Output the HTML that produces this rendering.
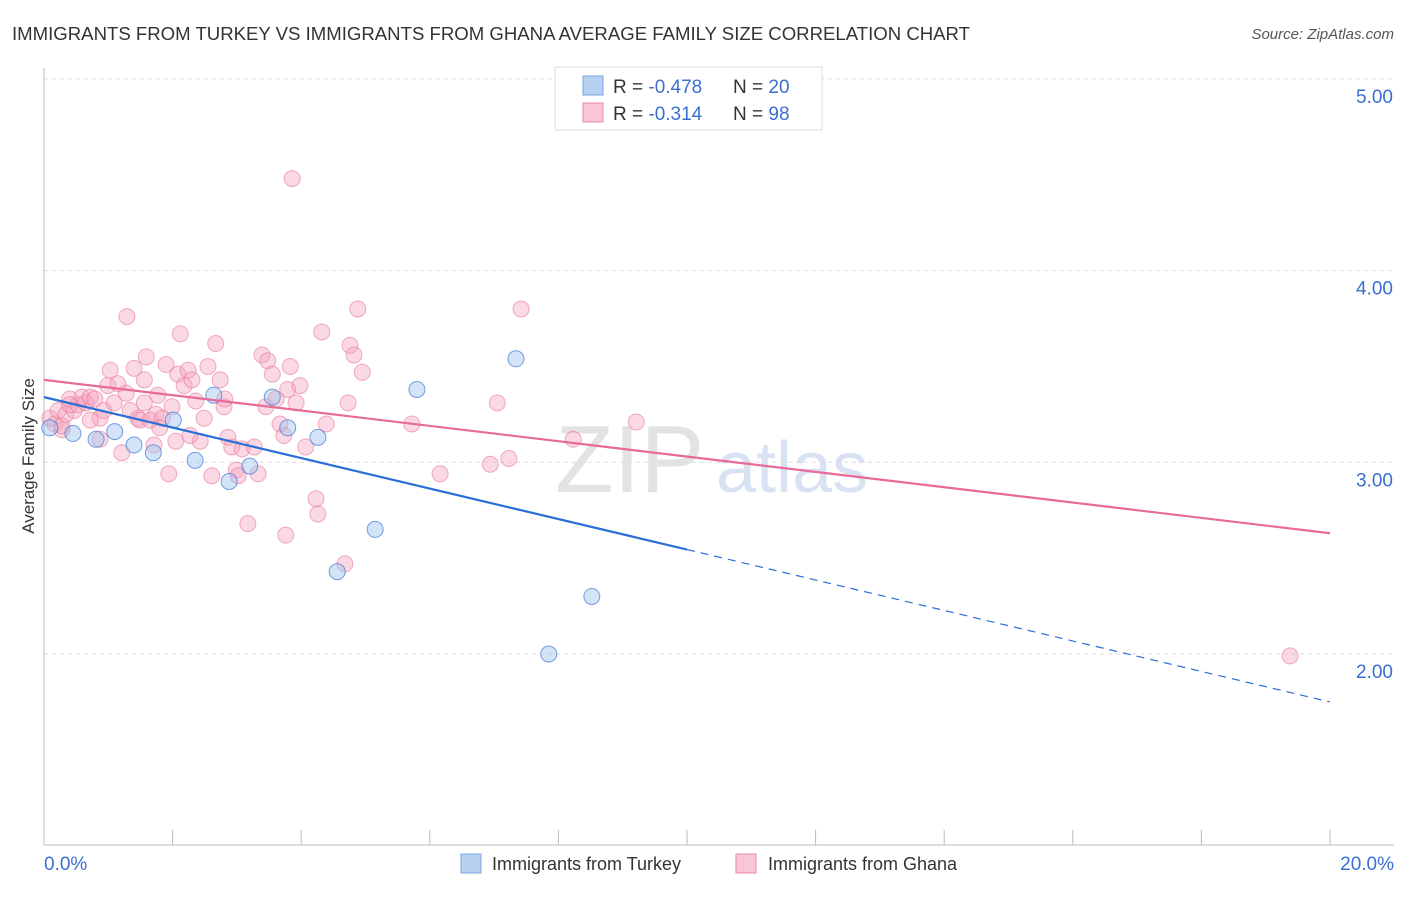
<!DOCTYPE html>
<html><head><meta charset="utf-8"><style>
body{margin:0;background:#fff;font-family:"Liberation Sans",sans-serif;}
svg text{font-family:"Liberation Sans",sans-serif;}
</style></head><body>
<svg id="chart" width="1406" height="892" xmlns="http://www.w3.org/2000/svg">
<text x="12" y="40" font-size="18" fill="#333" textLength="958" lengthAdjust="spacingAndGlyphs">IMMIGRANTS FROM TURKEY VS IMMIGRANTS FROM GHANA AVERAGE FAMILY SIZE CORRELATION CHART</text>
<text x="1394" y="39" font-size="15" fill="#555" font-style="italic" text-anchor="end">Source: ZipAtlas.com</text>
<g>
<text x="555" y="492" font-size="96" fill="#ddd" font-family="Liberation Serif" opacity="0.8">ZIP</text>
<text x="716" y="492" font-size="72" fill="#cfdcf0" opacity="0.8">atlas</text>
</g>
<g id="grid"></g><g id="axes"></g><g id="pts"></g><g id="lines"></g>
<text transform="translate(34,456) rotate(-90)" font-size="17" fill="#333" text-anchor="middle">Average Family Size</text>
<g>
<rect x="555" y="67" width="267" height="63" fill="#fff" stroke="#ddd"/>
<rect x="583" y="76" width="20" height="19" fill="#b8d1f3" stroke="#7aa7e0"/>
<text x="613" y="93" font-size="19" fill="#333">R = <tspan fill="#3a6fd0">-0.478</tspan></text>
<text x="733" y="93" font-size="19" fill="#333">N = <tspan fill="#3a6fd0">20</tspan></text>
<rect x="583" y="103" width="20" height="19" fill="#f8c6d6" stroke="#e98aa8"/>
<text x="613" y="120" font-size="19" fill="#333">R =  <tspan fill="#3a6fd0">-0.314</tspan></text>
<text x="733" y="120" font-size="19" fill="#333">N = <tspan fill="#3a6fd0">98</tspan></text>
</g>
<g>
<rect x="461" y="854" width="20" height="19" fill="#b8d1f3" stroke="#7aa7e0"/>
<text x="492" y="870" font-size="18" fill="#333">Immigrants from Turkey</text>
<rect x="736" y="854" width="20" height="19" fill="#f8c6d6" stroke="#e98aa8"/>
<text x="768" y="870" font-size="18" fill="#333">Immigrants from Ghana</text>
</g>
</svg>
<script>
const yTicks=[2,3,4,5];
const yTickLabels=["2.00","3.00","4.00","5.00"];
const xTickLabels=["0.0%","20.0%"];
const turkeyX=[0.09,0.45,0.81,1.10,1.40,1.70,2.01,2.35,2.64,2.88,3.20,3.55,3.79,4.26,4.56,5.15,5.80,7.34,7.85,8.52];
const turkeyY=[3.18,3.15,3.12,3.16,3.09,3.05,3.22,3.01,3.35,2.90,2.98,3.34,3.18,3.13,2.43,2.65,3.38,3.54,2.00,2.30];
const ghanaX=[0.09,0.17,0.22,0.28,0.34,0.40,0.47,0.53,0.59,0.65,0.72,0.79,0.87,0.93,0.99,1.03,1.09,1.15,1.21,1.28,1.29,1.34,1.40,1.46,1.49,1.56,1.59,1.65,1.71,1.74,1.77,1.84,1.90,1.94,1.99,2.05,2.08,2.12,2.18,2.24,2.30,2.36,2.43,2.49,2.55,2.61,2.67,2.74,2.80,2.86,2.92,2.99,3.02,3.08,3.17,3.27,3.33,3.39,3.45,3.48,3.55,3.61,3.67,3.73,3.76,3.79,3.83,3.86,3.92,3.98,4.07,4.23,4.26,4.32,4.39,4.68,4.73,4.76,4.82,4.88,4.95,5.72,6.16,6.94,7.05,7.23,7.42,8.23,9.21,19.38,0.28,0.40,0.72,0.87,1.56,1.80,2.27,2.81];
const ghanaY=[3.23,3.20,3.27,3.17,3.25,3.33,3.27,3.30,3.34,3.31,3.34,3.33,3.23,3.27,3.40,3.48,3.31,3.41,3.05,3.36,3.76,3.27,3.49,3.23,3.22,3.43,3.55,3.22,3.09,3.25,3.35,3.23,3.51,2.94,3.29,3.11,3.46,3.67,3.40,3.48,3.43,3.32,3.11,3.23,3.50,2.93,3.62,3.43,3.29,3.13,3.08,2.96,2.93,3.07,2.68,3.08,2.94,3.56,3.29,3.53,3.46,3.33,3.20,3.14,2.62,3.38,3.50,4.48,3.31,3.40,3.08,2.81,2.73,3.68,3.20,2.47,3.31,3.61,3.56,3.80,3.47,3.20,2.94,2.99,3.31,3.02,3.80,3.12,3.21,1.99,3.19,3.30,3.22,3.12,3.31,3.18,3.14,3.33];
const turkeyLine=[3.34,1.75];
const ghanaLine=[3.43,2.63];
const NS="http://www.w3.org/2000/svg";
const X0=44,X1=1330,YB=654,YPU=191.7;
function sx(v){return X0+v/20*(X1-X0);}
function sy(v){return YB-(v-2)*YPU;}
function mk(p,tag,a){const e=document.createElementNS(NS,tag);for(const k in a)e.setAttribute(k,a[k]);p.appendChild(e);return e;}
const grid=document.getElementById('grid'),axes=document.getElementById('axes'),pts=document.getElementById('pts'),lines=document.getElementById('lines');
yTicks.forEach((t,i)=>{
 const g=mk(grid,'line',{x1:44,x2:1394,y1:sy(t),y2:sy(t),stroke:'#ddd','stroke-dasharray':'4,4'});
 
 
 const l=mk(axes,'text',{x:1393,y:sy(t)+24,'font-size':19,fill:'#3a6fd0','text-anchor':'end'});
 l.textContent=yTickLabels[i];
 
 
});
let ax=mk(axes,'line',{x1:44,x2:44,y1:68,y2:845,stroke:'#bbb'});


ax=mk(axes,'line',{x1:44,x2:1394,y1:845,y2:845,stroke:'#bbb'});


for(let i=0;i<=10;i++){
 const t=mk(axes,'line',{x1:sx(i*2),x2:sx(i*2),y1:830,y2:845,stroke:'#bbb'});
 
 
}
[[0,70,'start'],[20,1394,'end']].forEach((d,i)=>{
 const l=mk(axes,'text',{x:d[1]-(i?0:26),y:870,'font-size':19,fill:'#3a6fd0','text-anchor':d[2]});
 l.textContent=xTickLabels[i];
 
 
});
ghanaX.forEach((x,i)=>{
 const c=mk(pts,'circle',{cx:sx(x),cy:sy(ghanaY[i]),r:8,fill:'rgba(244,160,188,0.4)',stroke:'rgba(232,120,155,0.6)'});
 
 
});
turkeyX.forEach((x,i)=>{
 const c=mk(pts,'circle',{cx:sx(x),cy:sy(turkeyY[i]),r:8,fill:'rgba(160,196,240,0.45)',stroke:'rgba(60,120,210,0.7)'});
 
 
});
const gy=v=>ghanaLine[0]+(ghanaLine[1]-ghanaLine[0])*v/20;
const ty=v=>turkeyLine[0]+(turkeyLine[1]-turkeyLine[0])*v/20;
let ln=mk(lines,'line',{x1:sx(0),y1:sy(gy(0)),x2:sx(20),y2:sy(gy(20)),stroke:'#e86a96','stroke-width':2.2});


ln=mk(lines,'line',{x1:sx(0),y1:sy(ty(0)),x2:sx(10),y2:sy(ty(10)),stroke:'#2a6fd6','stroke-width':2.2});


ln=mk(lines,'line',{x1:sx(10),y1:sy(ty(10)),x2:sx(20),y2:sy(ty(20)),stroke:'#2a6fd6','stroke-width':1.2,'stroke-dasharray':'8,6'});


</script>
</body></html>
